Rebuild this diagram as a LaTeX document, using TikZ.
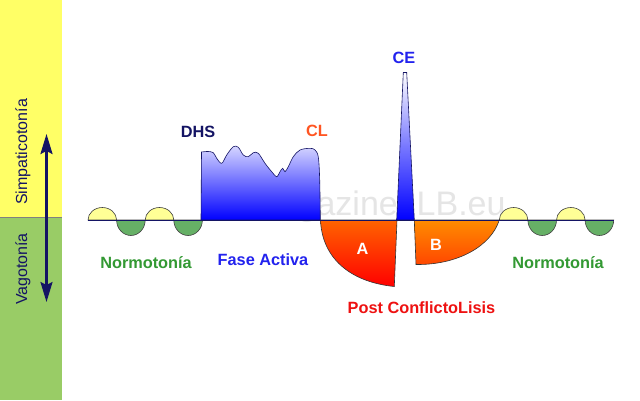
\documentclass[tikz,border=0pt]{standalone}
\usepackage{fontspec}
\setmainfont{Liberation Sans}
\usetikzlibrary{arrows.meta}
\definecolor{bandyellow}{RGB}{255,255,102}
\definecolor{bandgreen}{RGB}{153,204,102}
\definecolor{navy}{RGB}{20,20,100}
\definecolor{wyellow}{RGB}{255,255,150}
\definecolor{wgreen}{RGB}{102,176,102}
\definecolor{lblgreen}{RGB}{51,153,51}
\definecolor{lblblue}{RGB}{34,34,238}
\definecolor{lblred}{RGB}{238,17,17}
\definecolor{lblorange}{RGB}{255,85,34}
\definecolor{lightblue}{RGB}{215,215,255}
\tikzset{
  lbl/.style={font=\fontsize{16.3}{18}\selectfont\bfseries, inner sep=0pt},
  sidelbl/.style={font=\fontsize{16}{18}\selectfont, text=navy, rotate=90, inner sep=0pt},
  wave/.style={draw=black!75, line width=0.6pt},
  outl/.style={draw=navy, line width=0.6pt},
}
\begin{document}
\begin{tikzpicture}[x=1pt,y=-1pt]
\useasboundingbox (0,0) rectangle (640,400);
\fill[white] (0,0) rectangle (640,400);
% watermark
\node[font=\fontsize{34}{36}\selectfont, text=black!10, inner sep=0pt] (wm) at (378,207) {magazine ILB.eu};
% side band
\fill[bandyellow] (0,0) rectangle (62,217);
\fill[bandgreen] (0,217) rectangle (62,400);
\draw[gray, line width=0.6pt] (0,217) -- (62,217);
\node[sidelbl] (simp) at (23,152) {Simpaticotonía};
\node[sidelbl] (vago) at (23,269) {Vagotonía};
\coordinate (atop) at (46.5,134);
\coordinate (abot) at (46.5,302);
\draw[navy, line width=2.2pt, {Stealth[length=20pt,width=12pt,inset=3pt]}-{Stealth[length=20pt,width=12pt,inset=3pt]}] (atop) -- (abot);
% left waves
\foreach \x/\c/\s/\e/\r in {88/wyellow/180/360/12.5, 116.6/wgreen/180/0/15.5, 145.2/wyellow/180/360/12.5, 173.8/wgreen/180/0/15.5}{
  \draw[wave, fill=\c] (\x,220) arc[start angle=\s, end angle=\e, x radius=14.3, y radius=\r] -- cycle;
}
% right waves
\foreach \x/\c/\s/\e/\r in {499.3/wyellow/180/360/12.5, 527.9/wgreen/180/0/15.5, 556.5/wyellow/180/360/12.5, 585.1/wgreen/180/0/15.5}{
  \draw[wave, fill=\c] (\x,220) arc[start angle=\s, end angle=\e, x radius=14.3, y radius=\r] -- cycle;
}
% DHS block
\draw[outl, top color=lightblue, bottom color=blue] (201,220) -- plot[smooth, tension=0.55] coordinates {
 (201.5,152) (208,151.5) (213.3,152.7) (216.7,158.3) (221.7,163.3) (226.7,155) (233.3,146.7) (238.3,147.3)
 (243.3,155) (248.3,156.7) (253.3,152.7) (258.3,153.3) (265,163.3) (271.7,171.7) (276.7,176.7)
 (280,171.7) (282.7,168.3) (285,171.7) (288.3,166.7) (293.3,156.7) (300,150) (310,148.3) (315,150)
 (318.3,157) (319.7,180) (320.3,220)} -- cycle;
% A region
\draw[outl, draw=black!80, top color={rgb,255:red,255;green,100;blue,0}, bottom color={rgb,255:red,255;green,0;blue,0}]
  (320.5,220) .. controls (322,258) and (350,282) .. (394.3,286.5) -- (397,220) -- cycle;
% CE spike
\draw[outl, top color=white, bottom color=blue, middle color={rgb,255:red,120;green,120;blue,255}]
  (396.7,220) -- (403.3,72.5) -- (406.7,72.5) -- (414.3,220) -- cycle;
% B region
\draw[outl, draw=black!80, top color={rgb,255:red,255;green,140;blue,0}, bottom color={rgb,255:red,255;green,70;blue,0}]
  (414.3,220) -- (416,264.5) .. controls (458,265) and (491,246) .. (499.3,220) -- cycle;
% baseline
\coordinate (bl) at (88,220);
\coordinate (br) at (613.5,220);
\draw[navy, line width=0.7pt] (bl) -- (br);
% labels
\node[lbl, text=navy] (dhs) at (198,132) {DHS};
\node[lbl, text=lblorange] (cl) at (317,131) {CL};
\node[lbl, text=lblblue] (ce) at (404,58) {CE};
\node[lbl, text=lblgreen] (n1) at (146,263) {Normotonía};
\node[lbl, text=lblgreen] (n2) at (558,263) {Normotonía};
\node[lbl, text=lblblue] (fa) at (263,260) {Fase Activa};
\node[lbl, text=white] (la) at (362.5,249) {A};
\node[lbl, text=white] (lb) at (436,245) {B};
\node[lbl, text=lblred] (pc) at (421.5,308) {Post ConflictoLisis};
\end{tikzpicture}
\end{document}
